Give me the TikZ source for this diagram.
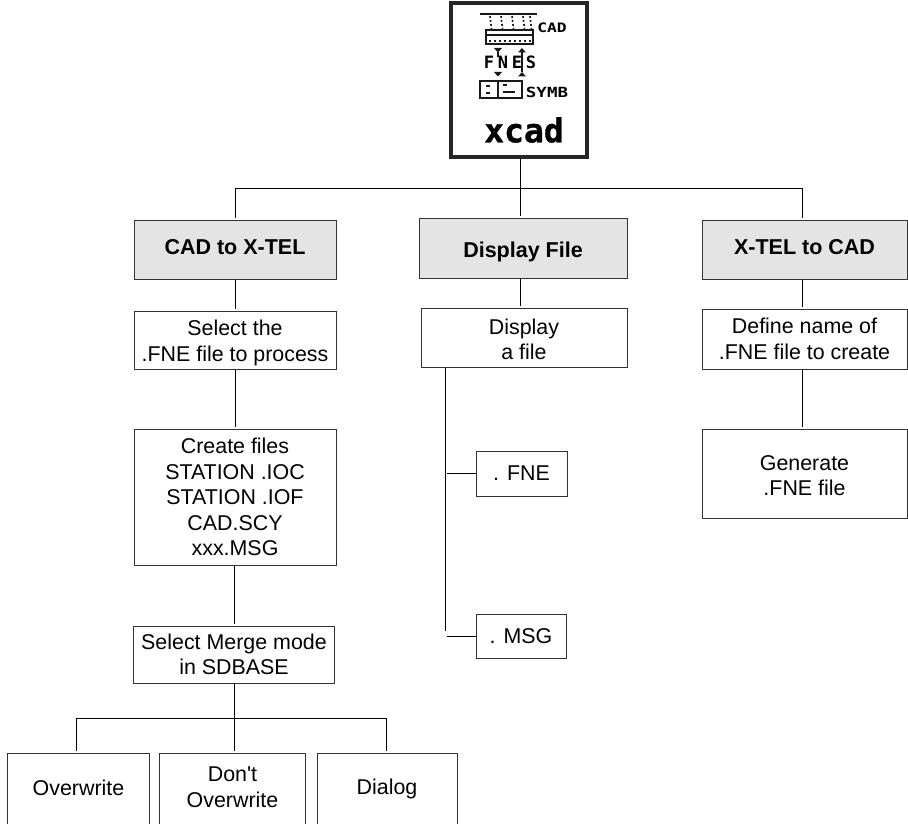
\documentclass[tikz,border=0pt]{standalone}
\usepackage{fontspec}
\setmainfont{Liberation Sans}
\newfontfamily\iconFont[BoldFeatures={FakeBold=1}]{DejaVu Sans Mono}
\newfontfamily\iconFontWide[LetterSpace=22]{DejaVu Sans Mono}
\newfontfamily\iconFontStretch[FakeStretch=1.25]{DejaVu Sans Mono}
\usepackage{tikz}
\usetikzlibrary{positioning, calc}
\definecolor{menuGray}{HTML}{E4E4E4}
\newcommand{\nudgeText}[2]{\raisebox{#1}[\height][\depth]{#2}}
\begin{document}
\begin{tikzpicture}[
  x=1pt, y=-1pt,
  box/.style={draw=black!80, line width=1pt, minimum width=202pt, inner sep=0pt, align=center, font=\fontsize{21.4}{25.5}\selectfont},
  menu/.style={box, fill=menuGray, font=\fontsize{21.5}{25.5}\selectfont\bfseries},
  endbox/.style={box, minimum height=74pt},
  conn/.style={line width=0.9pt, shorten >=1.5pt},
  pixel/.style={line width=2pt, black!90},
]
  \clip (0,0) rectangle (908,824);

  \node[draw=black!85, line width=3.2pt, minimum width=136pt, minimum height=154pt, inner sep=0pt] (icon) at (519,80) {};
  \node[menu, minimum height=59pt] (cad) at (235,249.5) {\nudgeText{2pt}{CAD to X-TEL}};
  \node[menu, minimum width=208pt, minimum height=60pt] (disp) at (523,248) {\nudgeText{-4pt}{Display File}};
  \node[menu, minimum width=205pt, minimum height=59pt] (xtel) at (804.5,249.5) {\nudgeText{2pt}{X-TEL to CAD}};

  \node[box, minimum height=58pt] (select) at (235,340) {\nudgeText{-3pt}{Select the}\\\nudgeText{-3pt}{.FNE file to process}};
  \node[box, minimum height=136pt] (create) at (235,497) {Create files\\STATION .IOC\\STATION .IOF\\CAD.SCY\\xxx.MSG};
  \node[box, minimum width=201pt, minimum height=57pt] (merge) at (234,654.5) {Select Merge mode\\in SDBASE};

  \node[box, minimum width=206pt, minimum height=59pt] (dfile) at (524,337.5) {\nudgeText{-2pt}{Display}\\\nudgeText{-2pt}{a file}};
  \node[box, minimum width=91pt, minimum height=45pt] (fne) at (521.5,473.5) {. FNE};
  \node[box, minimum width=90pt, minimum height=44pt] (msg) at (521,636) {. MSG};

  \node[box, minimum width=205pt, minimum height=60pt] (define) at (804.5,339) {Define name of\\.FNE file to create};
  \node[box, minimum width=205pt, minimum height=89pt] (generate) at (804.5,473.5) {\nudgeText{-2pt}{Generate}\\\nudgeText{-2pt}{.FNE file}};

  \node[endbox, minimum width=142pt] (over) at (78.5,790) {\nudgeText{2pt}{Overwrite}};
  \node[endbox, minimum width=145.5pt] (dont) at (232.5,790) {\nudgeText{3pt}{Don\textquotesingle t}\\\nudgeText{3pt}{Overwrite}};
  \node[endbox, minimum width=140pt] (dialog) at (387,790) {\nudgeText{1pt}{Dialog}};

  \coordinate (topBus) at (520,188);
  \coordinate (lowBus) at (234,718);
  \coordinate (dispDrop) at (445,631);

  \draw[line width=0.9pt] (icon.south -| topBus) -- (topBus);
  \draw[conn] (topBus) -- (disp.north -| topBus);
  \draw[conn] (topBus) -| (cad.north);
  \draw[conn] (topBus) -| ([xshift=-2.5pt]xtel.north);
  \draw[conn] (cad) -- (select);
  \draw[conn] (select) -- (create);
  \draw[conn] (create.south -| merge) -- (merge);
  \draw[conn] (disp.south -| topBus) -- (dfile.north -| topBus);
  \draw[conn] ([xshift=-2.5pt]xtel.south) -- ([xshift=-2.5pt]define.north);
  \draw[conn] ([xshift=-2.5pt]define.south) -- ([xshift=-2.5pt]generate.north);

  \draw[line width=0.9pt] (dfile.south -| dispDrop) -- (dispDrop);
  \draw[line width=0.9pt, shorten <=1.5pt] (fne.west -| dispDrop) -- (fne.west);
  \draw[line width=0.9pt, shorten <=1.5pt] (dispDrop |- msg.west) -- (msg.west);

  \draw[line width=0.9pt] (merge) -- (lowBus);
  \draw[conn] (lowBus) -| ([xshift=-2.5pt]over.north);
  \draw[conn] (lowBus) -- (dont.north -| lowBus);
  \draw[conn] (lowBus) -| ([xshift=-1pt]dialog.north);

  % icon
  \draw[pixel] (480,14.5) -- (537,14.5);
  \foreach \xa in {490,501,512,523,530} {
    \draw[pixel, line width=1.6pt, dash pattern=on 2pt off 2pt] (\xa,16) -- (\xa+1.5,29);
  }
  \draw[pixel] (486,30) rectangle (533,44);
  \draw[pixel] (486,35) -- (533,35);
  \draw[pixel, dash pattern=on 2pt off 3pt] (489,41) -- (531,41);
  \foreach \xa/\ya/\yb in {498/48/52.5, 498/72/76.5, 522/52.5/48, 522/76.5/72} {
    \fill[black!90] (\xa-4,\ya) -- (\xa+4,\ya) -- (\xa,\yb) -- cycle;
  }
  \draw[pixel, line width=1.5pt] (522,52.5) -- (522,72);
  \draw[pixel, line width=1.5pt] (498,52.5) -- (498,57);
  \draw[pixel] (480,81) rectangle (522,98);
  \draw[pixel] (498,81) -- (498,98);
  \foreach \ya in {86,93} {
    \draw[pixel] (486,\ya) -- (490,\ya);
  }
  \draw[pixel] (503,85.5) -- (507,85.5);
  \draw[pixel] (503,92) -- (515,92);

  \node[font=\iconFontStretch\fontsize{13}{13}\selectfont\bfseries, inner sep=0pt] (iconCad) at (552,27.5) {CAD};
  \node[font=\iconFontWide\fontsize{17}{17}\selectfont\bfseries, inner sep=0pt] (iconFnes) at (510,62.5) {FNES};
  \node[font=\iconFontStretch\fontsize{14}{14}\selectfont\bfseries, inner sep=0pt] (iconSymb) at (547,92.5) {SYMB};
  \node[font=\iconFont\fontsize{33}{33}\selectfont\bfseries, inner sep=0pt] (iconName) at (524,130) {xcad};
\end{tikzpicture}
\end{document}
